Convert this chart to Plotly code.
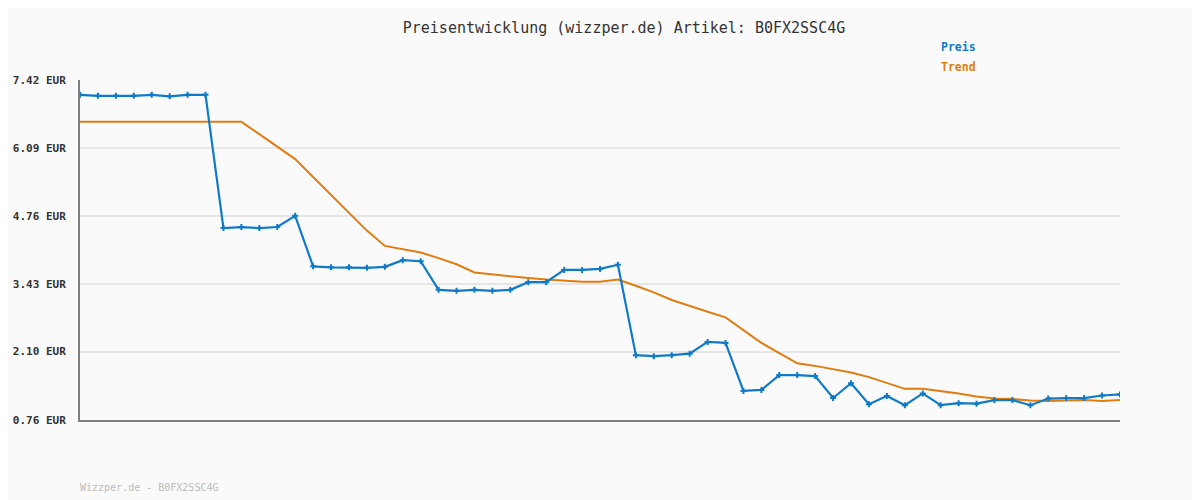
import plotly.graph_objects as go

preis = [7.13, 7.11, 7.11, 7.11, 7.13, 7.10, 7.13, 7.13,
         4.52, 4.54, 4.52, 4.54, 4.76, 3.77, 3.75, 3.75, 3.74,
         3.76, 3.89, 3.87, 3.31, 3.29, 3.31, 3.29, 3.31, 3.46, 3.46,
         3.70, 3.70, 3.72, 3.80, 2.03, 2.01, 2.03, 2.06, 2.29, 2.27,
         1.33, 1.35, 1.64, 1.64, 1.62, 1.19, 1.48, 1.07, 1.23, 1.05,
         1.28, 1.05, 1.09, 1.08, 1.15, 1.15, 1.05, 1.18, 1.19, 1.19,
         1.24, 1.26]

trend = [6.60, 6.60, 6.60, 6.60, 6.60, 6.60, 6.60, 6.60, 6.60, 6.60,
         6.36, 6.11, 5.87, 5.52, 5.17, 4.84, 4.47, 4.17, 4.11, 4.04,
         3.93, 3.81, 3.65, 3.61, 3.57, 3.54, 3.51, 3.49, 3.47, 3.47,
         3.51, 3.39, 3.26, 3.11, 2.99, 2.88, 2.77, 2.52, 2.27, 2.07,
         1.87, 1.82, 1.75, 1.69, 1.60, 1.48, 1.37, 1.37, 1.33, 1.28,
         1.22, 1.18, 1.17, 1.14, 1.13, 1.14, 1.15, 1.13, 1.15]

tick_vals = [0.76, 2.10, 3.43, 4.76, 6.09, 7.42]
tick_text = ["0.76 EUR", "2.10 EUR", "3.43 EUR", "4.76 EUR", "6.09 EUR", "7.42 EUR"]

x = list(range(len(preis)))
BLUE = "#0f7bc8"
ORANGE = "#e07d10"
MONO = "DejaVu Sans Mono"

# page has an 8px body margin; figure is sized so the plot sits at 80..1120 x 80..420
W, H = 1192, 492
OFF = 8

fig = go.Figure()
fig.add_trace(go.Scatter(x=x, y=trend, mode="lines", name="Trend",
                         line=dict(color=ORANGE, width=2), hoverinfo="skip"))
fig.add_trace(go.Scatter(x=x, y=preis, mode="lines+markers", name="Preis",
                         line=dict(color=BLUE, width=2.2),
                         marker=dict(symbol="cross", size=5, color=BLUE)))

fig.update_layout(
    width=W, height=H,
    margin=dict(l=72, r=80, t=72, b=80, autoexpand=False),
    paper_bgcolor="#fafafa", plot_bgcolor="#fafafa",
    showlegend=False,
    title=dict(text="Preisentwicklung (wizzper.de) Artikel: B0FX2SSC4G",
               x=(624 - OFF) / W, xanchor="center", y=1 - (28 - OFF) / H, yanchor="middle",
               font=dict(family=MONO, size=15, color="#333333")),
    xaxis=dict(range=[0, len(preis) - 1], showgrid=False, zeroline=False,
               showticklabels=False, ticks="", showline=True,
               linecolor="#808080", linewidth=2, automargin=False),
    yaxis=dict(range=[0.76, 7.42], tickvals=tick_vals, ticktext=tick_text,
               showgrid=True, gridcolor="#e6e6e6", gridwidth=2, zeroline=False,
               showline=True, linecolor="#808080", linewidth=2,
               ticks="", ticklabelstandoff=10, automargin=False,
               tickfont=dict(family=MONO, size=11, color="#333333", weight="bold")),
    annotations=[
        dict(text="Preis", xref="paper", yref="paper", x=(939 - 80) / 1040,
             y=(420 - 47) / 340, xanchor="left", yanchor="middle", showarrow=False,
             font=dict(family=MONO, size=11.5, color=BLUE, weight="bold")),
        dict(text="Trend", xref="paper", yref="paper", x=(939 - 80) / 1040,
             y=(420 - 67) / 340, xanchor="left", yanchor="middle", showarrow=False,
             font=dict(family=MONO, size=11.5, color=ORANGE, weight="bold")),
        dict(text="Wizzper.de - B0FX2SSC4G", xref="paper", yref="paper", x=0,
             y=(420 - 487) / 340, xanchor="left", yanchor="middle", showarrow=False,
             xshift=-2,
             font=dict(family=MONO, size=10, color="#bbbbbb")),
    ],
)

fig.write_html("out.html")
